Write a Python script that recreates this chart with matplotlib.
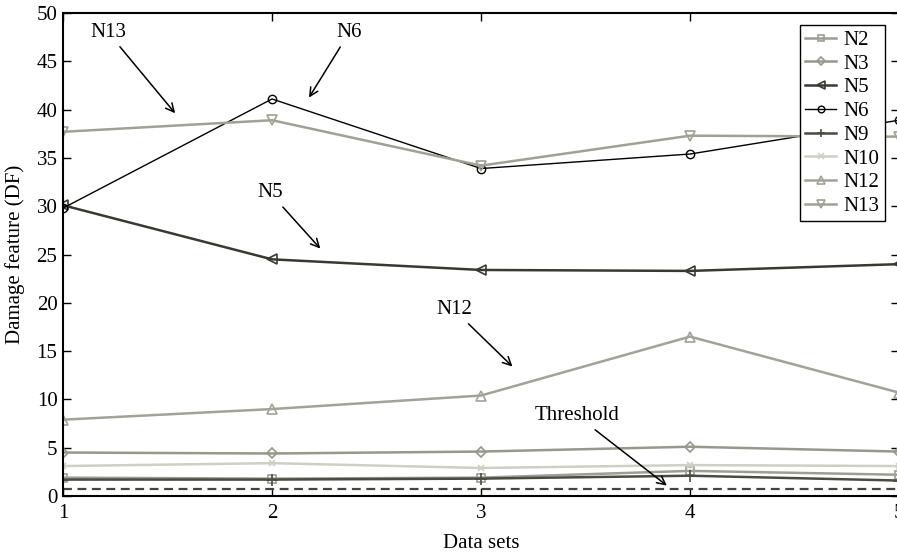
import matplotlib
matplotlib.use("Agg")
import matplotlib.pyplot as plt

plt.rcParams['font.family'] = ['Liberation Serif', 'DejaVu Serif']

# Data
data_sets = [1, 2, 3, 4, 5]
n2 = [1.9, 1.8, 1.9, 2.6, 2.2]
n3 = [4.5, 4.4, 4.6, 5.1, 4.6]
n5 = [30.1, 24.5, 23.4, 23.3, 24.0]
n6 = [29.8, 41.1, 33.9, 35.4, 38.9]
n9 = [1.7, 1.7, 1.8, 2.1, 1.6]
n10 = [3.1, 3.4, 2.9, 3.2, 3.1]
n12 = [7.9, 9.0, 10.4, 16.5, 10.7]
n13 = [37.7, 38.9, 34.2, 37.3, 37.2]
threshold = 0.75

fig = plt.figure(figsize=(8.97, 5.55), dpi=100)
ax = fig.add_axes([63/897, 59/555, 836/897, 483/555])

ax.plot(data_sets, n2, color='#9d9d92', lw=1.8, marker='s', ms=6, mfc='none', mew=1.2, label='N2')
ax.plot(data_sets, n3, color='#97978a', lw=1.8, marker='D', ms=5.5, mfc='none', mew=1.2, label='N3')
ax.plot(data_sets, n5, color='#383a31', lw=1.8, marker='<', ms=7, mfc='none', mew=1.2, label='N5')
ax.plot(data_sets, n6, color='black', lw=1.0, marker='o', ms=6, mfc='none', mew=1.0, label='N6')
ax.plot(data_sets, n9, color='#4a4c42', lw=1.8, marker='+', ms=8, mew=1.2, label='N9')
ax.plot(data_sets, n10, color='#cfcfc4', lw=1.8, marker='x', ms=5, mew=1.2, label='N10')
ax.plot(data_sets, n12, color='#a2a296', lw=1.8, marker='^', ms=7, mfc='none', mew=1.2, label='N12')
ax.plot(data_sets, n13, color='#a0a093', lw=1.8, marker='v', ms=7, mfc='none', mew=1.2, label='N13')
ax.axhline(threshold, color='#44463d', lw=1.6, ls=(0, (4, 2.5)))

ax.set_xlim(1, 5)
ax.set_ylim(0, 50)
ax.set_xticks(data_sets)
ax.set_yticks(range(0, 51, 5))
ax.tick_params(direction='in', top=True, right=True, length=6, width=1, labelsize=15)
ax.tick_params(axis='x', pad=6)
ax.tick_params(axis='y', pad=4)
for s in ax.spines.values():
    s.set_linewidth(1.5)

ax.set_xlabel('Data sets', fontsize=15, labelpad=8)
ax.set_ylabel('Damage feature (DF)', fontsize=15, labelpad=8)

arrow = dict(arrowstyle='->', color='black', lw=1.1)
ax.annotate('N13', xy=(1.545, 39.4), xytext=(1.215, 48.0), fontsize=15, ha='center', va='center', arrowprops=arrow)
ax.annotate('N6', xy=(2.17, 41.0), xytext=(2.37, 48.0), fontsize=15, ha='center', va='center', arrowprops=arrow)
ax.annotate('N5', xy=(2.24, 25.4), xytext=(1.99, 31.4), fontsize=15, ha='center', va='center', arrowprops=arrow)
ax.annotate('N12', xy=(3.16, 13.2), xytext=(2.87, 19.3), fontsize=15, ha='center', va='center', arrowprops=arrow)
ax.annotate('Threshold', xy=(3.90, 0.9), xytext=(3.46, 8.3), fontsize=15, ha='center', va='center', arrowprops=arrow)

leg = ax.legend(loc='upper right', bbox_to_anchor=(0.983, 0.975), borderaxespad=0, fontsize=15,
                handlelength=1.5, handletextpad=0.35, labelspacing=0.2, borderpad=0.25, fancybox=False,
                edgecolor='black', framealpha=1, markerscale=0.8)
leg.get_frame().set_linewidth(1.0)

fig.savefig('out.png', dpi=100)
